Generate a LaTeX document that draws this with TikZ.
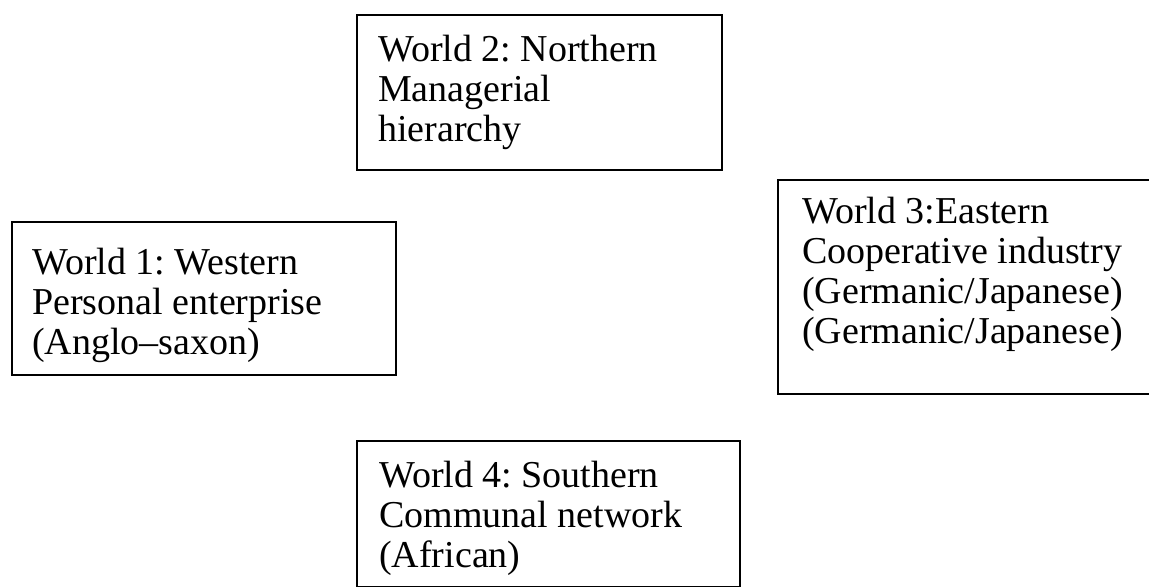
\documentclass[tikz,border=0pt]{standalone}
\usepackage{fontspec}
\setmainfont{Liberation Serif}
\frenchspacing
\begin{document}
\begin{tikzpicture}[x=1pt,y=-1pt,
  frame/.style={draw=black,line width=1.8pt,fill=none},
  label/.style={anchor=base west,align=left,inner sep=0pt,font=\fontsize{38}{40}\selectfont}]
\useasboundingbox (0,0) rectangle (1149,588);
\clip (0,0) rectangle (1149,588);
% boxes
\path[frame] (357,15) rectangle (722,170);
\node[label] (t2) at (378,142) {World 2: Northern\\Managerial\\hierarchy};
\path[frame] (12,222) rectangle (396,375);
\node[label] (t1) at (32,354) {World 1: Western\\Personal enterprise\\(Anglo–saxon)};
\path[frame] (778,180) rectangle (1170,394);
\node[label] (t3) at (802,343) {World 3:Eastern\\Cooperative industry\\(Germanic/Japanese)\\(Germanic/Japanese)};
\path[frame] (357,441) rectangle (740,586.5);
\node[label] (t4) at (379,567) {World 4: Southern\\Communal network\\(African)};
\end{tikzpicture}
\end{document}
